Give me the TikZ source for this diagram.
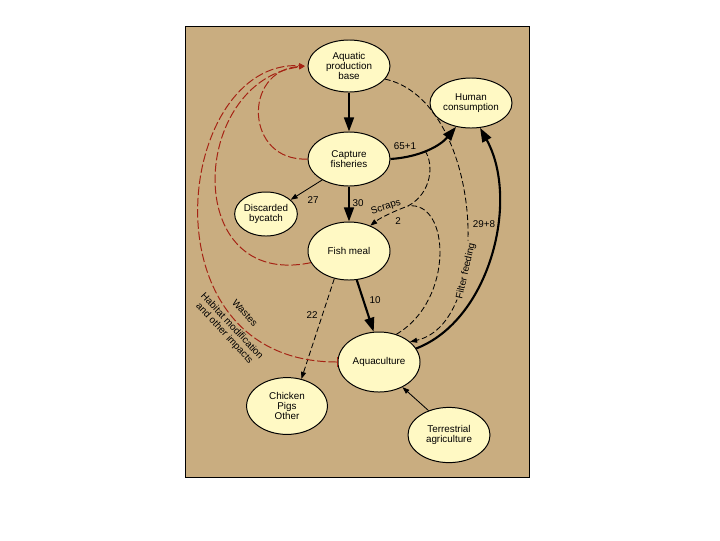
\documentclass[tikz,border=0pt]{standalone}
\usepackage{fontspec}
\setmainfont{Liberation Sans}
\usepackage{xcolor}
\usetikzlibrary{arrows.meta,shapes.geometric}
\definecolor{paper}{RGB}{201,173,128}
\definecolor{pool}{RGB}{255,249,196}
\definecolor{rust}{RGB}{165,35,20}

\begin{document}
\begin{tikzpicture}[x=0.025cm,y=-0.025cm,font=\fontsize{7}{7.4}\selectfont,>=Stealth,
  sector/.style={draw,ellipse,fill=pool,line width=0.7pt,inner sep=0pt,align=center,minimum width=2.05cm,minimum height=1.4cm},
  heavy/.style={line width=1.5pt,-{Triangle[length=10pt,width=7pt]}},
  light/.style={line width=0.6pt,-{Triangle[length=5pt,width=3.5pt]}},
  broken/.style={line width=0.6pt,dash pattern=on 4pt off 2pt},
  loss/.style={rust,line width=0.7pt,dash pattern=on 6pt off 2pt,-{Triangle[length=4pt,width=3.5pt]},shorten >=2pt},
  lbl/.style={inner sep=1pt}]
  \fill[white] (0,0) rectangle (720,540);
  \draw[fill=paper,line width=0.4pt] (185,26) rectangle (529,477);

  \node[sector,minimum height=1.3cm] (base) at (349,66) {Aquatic\\production\\base};
  \node[sector,minimum height=1.25cm] (human) at (471,103) {Human\\consumption};
  \node[sector,minimum height=1.35cm] (capture) at (349,159) {Capture\\fisheries};
  \node[sector,minimum width=1.4cm,minimum height=1.1cm] (bycatch) at (266,214) {Discarded\\bycatch};
  \node[sector,minimum height=1.45cm] (fishmeal) at (349,251) {Fish meal};
  \node[sector,minimum height=1.5cm] (aqua) at (379,362) {Aquaculture};
  \node[sector,minimum width=2.02cm,minimum height=1.42cm] (livestock) at (287,406) {Chicken\\Pigs\\Other};
  \node[sector,minimum height=1.38cm] (terra) at (449,435) {Terrestrial\\agriculture};
  \coordinate (scrapsjoin) at (408,206);

  \draw[heavy] (base) -- (capture);
  \draw[heavy] (capture) -- (fishmeal);
  \draw[heavy] (capture.east) .. controls (420,157) and (440,146) .. (human.238) coordinate[pos=0.45] (scrapsrc);
  \draw[heavy] (aqua.20) .. controls (490,320) and (520,200) .. (human.290);
  \draw[heavy] (fishmeal.-75) -- (aqua.100);
  \draw[light] (capture.218) -- (bycatch.30);
  \draw[light] (terra.130) -- (aqua.-47);
  \draw[light,broken] (fishmeal.-118) -- (livestock.62);
  \draw[light,broken] (scrapsrc) .. controls (434,164) and (432,193) .. (scrapsjoin) .. controls (392,212) and (380,218) .. (fishmeal.50);
  \draw[broken] (aqua.58) .. controls (455,300) and (450,200) .. (scrapsjoin);
  \draw[light,broken] (base.-20) .. controls (482,100) and (496,322) .. (aqua.33);
  \draw[loss] (capture.west) .. controls (245,162) and (242,70) .. (base.west);
  \draw[loss] (fishmeal.197) .. controls (180,290) and (190,80) .. (base.west);
  \draw[loss,{Bar[width=7pt]}-{Triangle[length=4pt,width=3.5pt]}] (aqua.west) .. controls (140,362) and (175,60) .. (base.west);

  \node[lbl] (l65) at (405,146) {65+1};
  \node[lbl] (l27) at (313,200) {27};
  \node[lbl] (l30) at (358,203) {30};
  \node[lbl,rotate=18] (lscraps) at (386,207) {Scraps};
  \node[lbl] (l2) at (398,221) {2};
  \node[lbl] (l29) at (484,224) {29+8};
  \node[lbl,rotate=77,fill=paper] (lfilter) at (466,271) {Filter feeding};
  \node[lbl] (l10) at (375,300) {10};
  \node[lbl] (l22) at (312,315) {22};
  \node[lbl,rotate=-48] (lwastes) at (245,313) {Wastes};
  \node[lbl,rotate=-47,align=center] (lhabitat) at (228,330) {Habitat modification\\and other impacts};
\end{tikzpicture}
\end{document}
